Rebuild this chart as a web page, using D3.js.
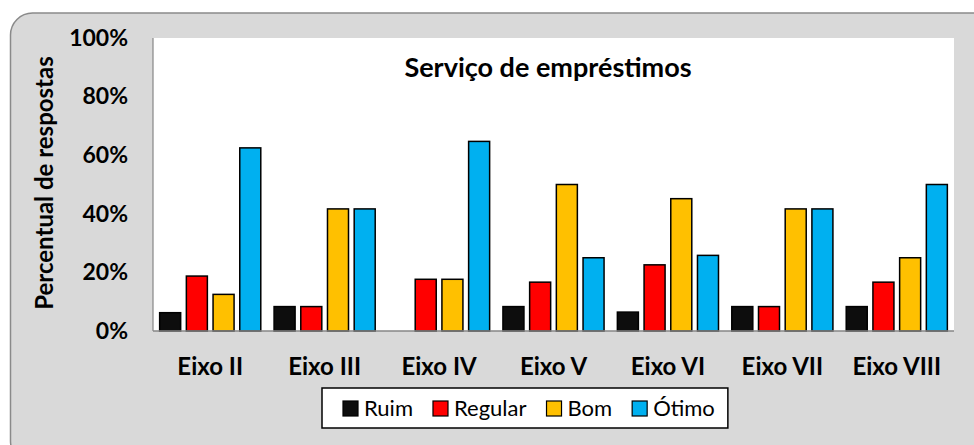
<!DOCTYPE html>
<html>
<head>
    <title>Serviço de empréstimos</title>
    <style>
        body { margin: 0; background: #fff; }
        text { font-family: Lato, "Open Sans", sans-serif; fill: #000; }
    </style>
</head>
<body>
<svg id="chart" width="974" height="445"></svg>

<script src="https://d3js.org/d3.v7.min.js"></script>
<script type="text/javascript">

const categories = ['Eixo II', 'Eixo III', 'Eixo IV', 'Eixo V', 'Eixo VI', 'Eixo VII', 'Eixo VIII'];
const seriesNames = ['Ruim', 'Regular', 'Bom', 'Ótimo'];
const ruim    = [6.25, 8.33, 0, 8.33, 6.45, 8.33, 8.33];
const regular = [18.75, 8.33, 17.65, 16.67, 22.58, 8.33, 16.67];
const bom     = [12.5, 41.67, 17.65, 50, 45.16, 41.67, 25];
const otimo   = [62.5, 41.67, 64.71, 25, 25.81, 41.67, 50];
const yTicks  = [0, 20, 40, 60, 80, 100];

const colors = ['#0d0d0d', '#ff0000', '#ffc000', '#00b0f0'];

function renderChart() {
    const svg = d3.select('#chart');
    const values = [ruim, regular, bom, otimo];

    // flat rows: one per bar
    const rows = [];
    categories.forEach((c, i) => {
        seriesNames.forEach((s, j) => {
            rows.push({ cat: c, series: s, value: values[j][i], color: colors[j] });
        });
    });

    // chart area background
    svg.append('rect')
        .attr('x', 10.5)
        .attr('y', 13)
        .attr('width', 990)
        .attr('height', 450)
        .attr('rx', 22)
        .style('fill', '#d9d9d9')
        .style('stroke', '#8a8a8a')
        .style('stroke-width', 1.5);

    const plot = { left: 153, right: 954, top: 38, bottom: 331 };

    svg.append('rect')
        .attr('x', plot.left)
        .attr('y', plot.top)
        .attr('width', plot.right - plot.left)
        .attr('height', plot.bottom - plot.top)
        .style('fill', '#fff');

    const x0 = d3.scaleBand()
        .domain(categories)
        .range([plot.left, plot.right])
        .padding(0);

    const x1 = d3.scaleBand()
        .domain(seriesNames)
        .range([0, x0.bandwidth()])
        .paddingInner(0.213)
        .paddingOuter(0.249);

    const y = d3.scaleLinear()
        .domain([0, 100])
        .range([plot.bottom, plot.top]);

    // bars
    svg.append('g')
        .attr('class', 'bars')
        .selectAll('rect')
        .data(rows.filter(d => d.value > 0))
        .join('rect')
            .attr('x', d => x0(d.cat) + x1(d.series))
            .attr('y', d => y(d.value))
            .attr('width', x1.bandwidth())
            .attr('height', d => y(0) - y(d.value))
            .style('fill', d => d.color)
            .style('stroke', '#000')
            .style('stroke-width', 1.5);

    // axis lines
    svg.append('line')
        .attr('x1', plot.left).attr('x2', plot.left)
        .attr('y1', plot.top).attr('y2', plot.bottom)
        .style('stroke', '#868686').style('stroke-width', 1.2);
    svg.append('line')
        .attr('x1', plot.left).attr('x2', plot.right)
        .attr('y1', plot.bottom).attr('y2', plot.bottom)
        .style('stroke', '#868686').style('stroke-width', 1.5);

    // y axis
    svg.append('g')
        .attr('class', 'y-axis')
        .attr('transform', `translate(${plot.left}, 0)`)
        .call(d3.axisLeft(y)
            .tickValues(yTicks)
            .tickSize(0)
            .tickPadding(25)
            .tickFormat(d => d + '%'))
        .call(g => g.select('.domain').remove())
        .call(g => g.selectAll('.tick text')
            .style('font-family', 'Lato, sans-serif')
            .style('font-size', '23px')
            .style('font-weight', 'bold')
            .attr('fill', '#000'));

    // x axis
    svg.append('g')
        .attr('class', 'x-axis')
        .attr('transform', `translate(0, ${plot.bottom})`)
        .call(d3.axisBottom(x0).tickSize(0))
        .call(g => g.select('.domain').remove())
        .call(g => g.selectAll('.tick text')
            .attr('y', 44)
            .attr('dy', 0)
            .style('font-family', 'Lato, sans-serif')
            .style('font-size', '24px')
            .style('font-weight', 'bold')
            .attr('fill', '#000'));

    // title
    svg.append('text')
        .attr('x', 548)
        .attr('y', 77)
        .attr('text-anchor', 'middle')
        .style('font-size', '27px')
        .style('font-weight', 'bold')
        .text('Serviço de empréstimos');

    // y axis title
    svg.append('text')
        .attr('transform', 'translate(53, 183) rotate(-90)')
        .attr('text-anchor', 'middle')
        .style('font-size', '24px')
        .style('font-weight', 'bold')
        .text('Percentual de respostas');

    // legend
    const legend = svg.append('g').attr('class', 'legend');
    const legendBox = legend.append('rect')
        .attr('x', 322)
        .attr('y', 388)
        .attr('height', 40)
        .style('fill', '#fff')
        .style('stroke', '#000')
        .style('stroke-width', 1.5);

    let lx = 343;
    seriesNames.forEach((s, j) => {
        legend.append('rect')
            .attr('x', lx)
            .attr('y', 401)
            .attr('width', 15)
            .attr('height', 15)
            .style('fill', colors[j])
            .style('stroke', '#000')
            .style('stroke-width', 1.2);
        const t = legend.append('text')
            .attr('x', lx + 21)
            .attr('y', 416)
            .style('font-size', '22px')
            .text(s);
        lx += 21 + t.node().getComputedTextLength() + 20;
    });
    legendBox.attr('width', lx - 20 + 13 - 322);
}

renderChart();

</script>
</body>
</html>
